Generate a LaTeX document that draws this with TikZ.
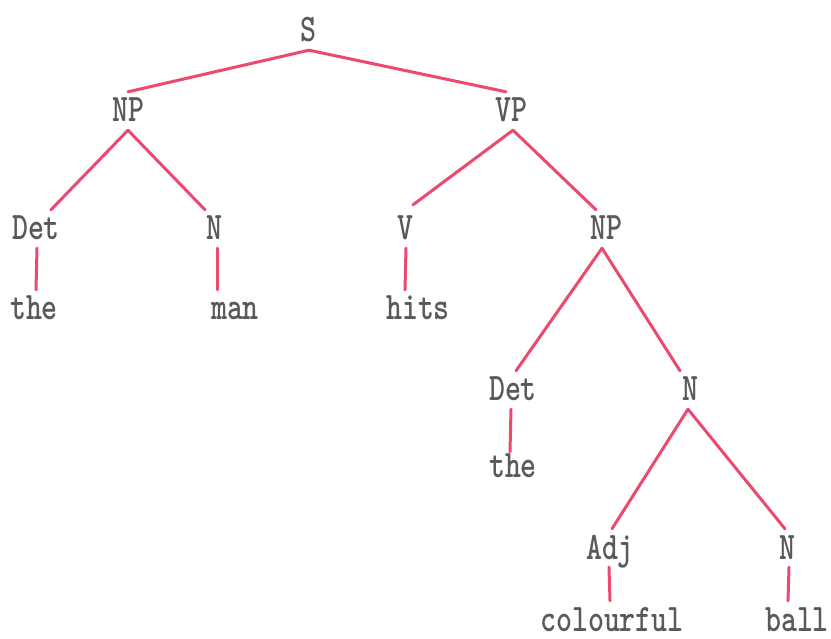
\documentclass[tikz,border=0pt]{standalone}
\usepackage{graphicx}
\definecolor{branch}{HTML}{EB4A6E}
\definecolor{label}{HTML}{5A5A5A}
\begin{document}
\begin{tikzpicture}[x=1pt,y=-1pt,
  cat/.style={anchor=base,inner xsep=0pt,inner ysep=6pt,text height=24pt,text depth=2pt,
    text=label,font=\fontsize{39}{39}\ttfamily\bfseries},
  leaf/.style={cat,inner ysep=2pt,text height=28pt,text depth=0pt},
  edge/.style={draw=branch,line width=3pt,line cap=round}]
\useasboundingbox (0,0) rectangle (831,639);
\fill[white] (0,0) rectangle (831,639);
% categories and words, placed on their baselines
\newcommand\tw[1]{\scalebox{0.78}[1]{#1}}
\node[cat] (s)    at (308,42)  {\tw{S}};
\node[cat] (np1)  at (128,122) {\tw{NP}};
\node[cat] (vp)   at (511,122) {\tw{VP}};
\node[cat] (det1) at (36,240)  {\tw{Det}};
\node[cat] (n1)   at (214,240) {\tw{N}};
\node[cat] (v)    at (405,240) {\tw{V}};
\node[cat] (np2)  at (606,240) {\tw{NP}};
\node[leaf] (the1) at (34,320)  {\tw{the}};
\node[leaf] (man)  at (235,320) {\tw{man}};
\node[leaf] (hits) at (418,320) {\tw{hits}};
\node[cat] (det2) at (513,401) {\tw{Det}};
\node[cat] (n2)   at (690,401) {\tw{N}};
\node[leaf] (the2) at (513,477) {\tw{the}};
\node[cat] (adj)  at (610,559) {\tw{Adj}};
\node[cat] (n3)   at (787,559) {\tw{N}};
\node[leaf] (col)  at (612,631) {\tw{colourful}};
\node[leaf] (ball) at (797,631) {\tw{ball}};
% branches
\path[edge] ([xshift=1pt]s.south) -- (np1.north);
\path[edge] ([xshift=1pt]s.south) -- ([xshift=-5pt]vp.north);
\path[edge] (np1.south) -- ([xshift=15pt]det1.north);
\path[edge] (np1.south) -- ([xshift=-9pt]n1.north);
\path[edge] ([xshift=1pt]det1.south) -- ([xshift=2pt]the1.north);
\path[edge] ([xshift=3pt]n1.south) -- ([xshift=-18pt]man.north);
\path[edge] ([xshift=2pt]vp.south) -- ([xshift=8pt,yshift=5pt]v.north);
\path[edge] ([xshift=2pt]vp.south) -- ([xshift=-10pt]np2.north);
\path[edge] ([xshift=1pt]v.south) -- ([xshift=-13pt]hits.north);
\path[edge] ([xshift=-4pt]np2.south) -- ([xshift=3pt]det2.north);
\path[edge] ([xshift=-4pt]np2.south) -- ([xshift=-10pt]n2.north);
\path[edge] ([xshift=-2pt]det2.south) -- ([xshift=-3pt,yshift=-5pt]the2.north);
\path[edge] ([xshift=-2pt]n2.south) -- ([xshift=2pt]adj.north);
\path[edge] ([xshift=-2pt]n2.south) -- ([xshift=-2pt]n3.north);
\path[edge] ([xshift=-1pt]adj.south) -- ([xshift=-2pt]col.north);
\path[edge] ([xshift=2pt]n3.south) -- ([xshift=-9pt]ball.north);
\end{tikzpicture}
\end{document}
